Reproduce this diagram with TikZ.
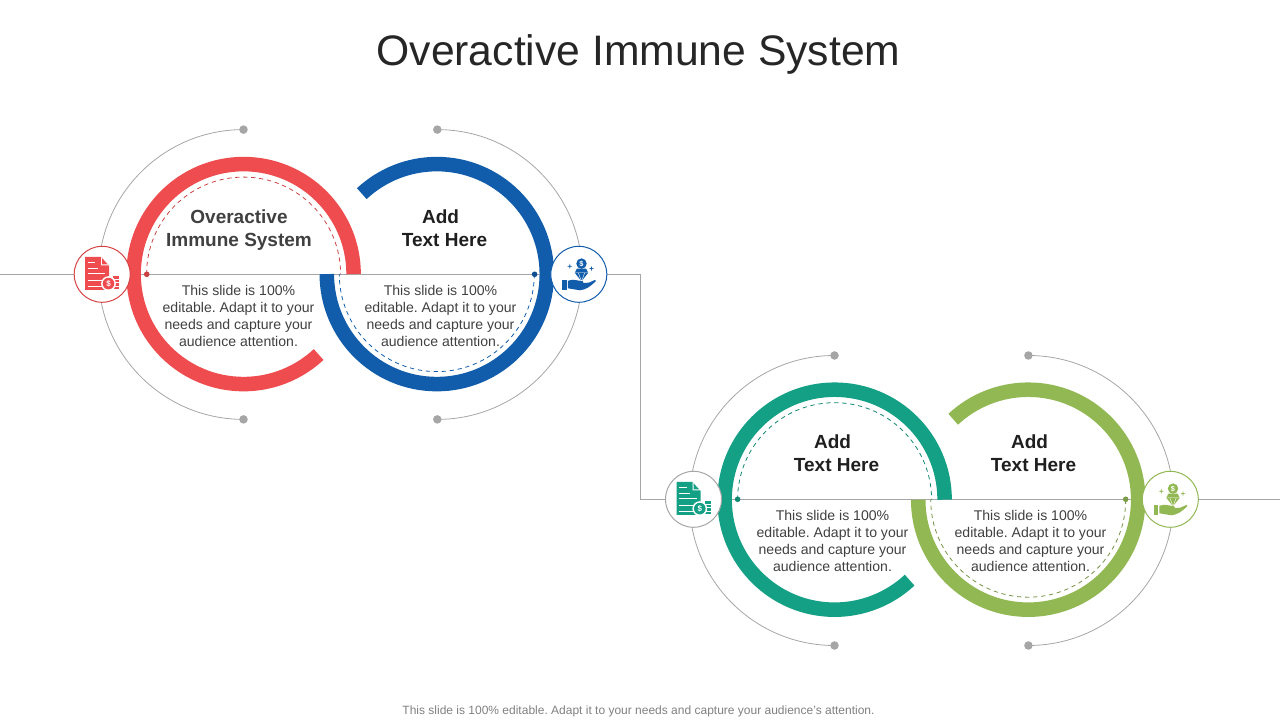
\documentclass[tikz,border=0pt]{standalone}
\usepackage{fontspec}
\setmainfont{Liberation Sans}
\frenchspacing
\definecolor{cred}{HTML}{EE4C4E}
\definecolor{cblue}{HTML}{115DAB}
\definecolor{cteal}{HTML}{14A085}
\definecolor{cgreen}{HTML}{92B853}
\definecolor{greyline}{HTML}{A6A6A6}
\definecolor{greydot}{HTML}{A6A6A6}
\definecolor{bodytext}{HTML}{404040}
\definecolor{headtext}{HTML}{1F1F1F}
\newcommand{\bodycopy}{This slide is 100\%\\editable. Adapt it to your\\needs and capture your\\audience attention.}
\newcommand{\docglyph}[1]{%
  \fill[#1] (-17,17.3) -- (-1,17.3) -- (7,8.5) -- (7,-15.7) -- (-17,-15.7) -- cycle;
  \fill[white] (-1,17.3) -- (-1,9) -- (7,9) -- cycle;
  \fill[#1] (0,16) -- (0,10) -- (5.5,10) -- cycle;
  \foreach \ya/\xb in {11.5/-7,5.7/-4,0.7/3,-6.7/3,-12/3}
    \draw[white,line width=.75pt] (-14.7,\ya) -- (\xb,\ya);
  \foreach \ya in {-4.5,-8,-11.5,-15}
    \fill[#1] (11,\ya) rectangle (17,\ya+2.4);
  \fill[white] (6.3,-9.3) circle (7.4);
  \fill[#1] (6.3,-9.3) circle (5.8);
  \node[text=white,inner sep=0pt,font=\bfseries\fontsize{6}{6}\selectfont] (dollar) at (6.3,-9.3) {\$};
}
\newcommand{\handglyph}[1]{%
  \fill[#1] (2.7,10.7) circle (5.2);
  \node[text=white,inner sep=0pt,font=\bfseries\fontsize{5.5}{6}\selectfont] (dollar) at (2.7,10.7) {\$};
  \fill[#1] (-2,5.6) -- (7.4,5.6) -- (9.4,1.5) -- (2.7,-7) -- (-4,1.5) -- cycle;
  \draw[white,line width=.3pt] (-4,1.5) -- (9.4,1.5) (-.5,1.5) -- (2.7,-7) -- (5.9,1.5);
  \fill[#1] (-16.7,-5.6) rectangle (-12.3,-15.3);
  \fill[#1] (-11,-6.5) .. controls (-6,-5) and (-3,-5.5) .. (0,-6.3) -- (4,-7) -- (4.5,-8.6) -- (10,-8.4) -- (16.5,-5.5) -- (17,-6.8) .. controls (12,-12) and (7,-15.5) .. (1,-16) -- (-11,-14) -- cycle;
  \foreach \sx/\sy in {-9/8,12.7/5.7}
    \fill[#1] (\sx-2.6,\sy) -- (\sx-.5,\sy+.5) -- (\sx,\sy+2.6) -- (\sx+.5,\sy+.5) -- (\sx+2.6,\sy) -- (\sx+.5,\sy-.5) -- (\sx,\sy-2.6) -- (\sx-.5,\sy-.5) -- cycle;
}
\tikzset{
  x=.75pt,y=.75pt,
  connector/.style={draw=greyline,line width=.75pt},
  guide/.style={draw=greyline,line width=.6pt},
  ring/.style={line width=10.9pt,line cap=butt},
  dashline/.style={line width=.6pt,dash pattern=on 3.2pt off 2.8pt},
  greyknob/.style={circle,fill=greydot,inner sep=0pt,minimum size=6.4pt},
  endknob/.style={circle,inner sep=0pt,minimum size=4.2pt},
  iconring/.style={circle,draw,fill=white,line width=.75pt,inner sep=0pt,minimum size=42pt},
  heading/.style={align=center,inner sep=0pt,text=headtext,font=\bfseries\fontsize{14.25}{17.25}\selectfont},
  bodybox/.style={align=center,inner sep=0pt,text=bodytext,font=\fontsize{10.55}{12.75}\selectfont},
}
\begin{document}
\begin{tikzpicture}
\useasboundingbox (0,0) rectangle (1280,720);
% reference points
\coordinate (cr) at (243.6,445.9);
\coordinate (cb) at (436.8,445.9);
\coordinate (ct) at (834.6,220.3);
\coordinate (cg) at (1028.2,220.3);
\coordinate (lineA) at (0,445.7);
\coordinate (lineB) at (640.3,445.7);
\coordinate (lineC) at (640.3,220.7);
\coordinate (lineD) at (1280,220.7);
% connector
\draw[connector] (lineA) -- (lineB) -- (lineC) -- (lineD);
% grey knobs and guide arcs
\node[greyknob] (k1) at (243.5,590.4) {};
\node[greyknob] (k2) at (243.5,300.6) {};
\node[greyknob] (k3) at (437.3,590.4) {};
\node[greyknob] (k4) at (437.3,300.6) {};
\node[greyknob] (k5) at (834.5,364.5) {};
\node[greyknob] (k6) at (834.5,74.5) {};
\node[greyknob] (k7) at (1028.4,364.5) {};
\node[greyknob] (k8) at (1028.4,74.5) {};
\draw[guide] (k1.center) arc (90:270:144.9);
\draw[guide] (k3.center) arc (90:-90:144.9);
\draw[guide] (k5.center) arc (90:270:145);
\draw[guide] (k7.center) arc (90:-90:145);
% dashed arcs
\draw[dashline,cred!85!black] ([shift={(180:97)}]cr) arc (180:0:97);
\draw[dashline,cblue] ([shift={(0:97.5)}]cb) arc (360:180:97.5);
\draw[dashline,cteal!85!black] ([shift={(180:97)}]ct) arc (180:0:97);
\draw[dashline,cgreen!80!black] ([shift={(0:97.5)}]cg) arc (360:180:97.5);
% rings
\draw[ring,cred] ([shift={(0:110)}]cr) arc (0:313:110);
\draw[ring,cblue] ([shift={(180:110)}]cb) arc (180:493:110);
\draw[ring,cteal] ([shift={(0:110)}]ct) arc (0:313:110);
\draw[ring,cgreen] ([shift={(180:110)}]cg) arc (180:493:110);
% dots on the line
\node[endknob,fill=cred!85!black] (d1) at (146.7,445.7) {};
\node[endknob,fill=cblue!85!black] (d2) at (534.6,445.7) {};
\node[endknob,fill=cteal!85!black] (d3) at (737.6,220.7) {};
\node[endknob,fill=cgreen!85!black] (d4) at (1125.7,220.7) {};
% icons
\node[iconring,draw=cred!90!black] (i1) at (102.2,445.7) {};
\node[iconring,draw=cblue] (i2) at (578.8,445.7) {};
\node[iconring,draw=greyline] (i3) at (693.5,220.7) {};
\node[iconring,draw=cgreen] (i4) at (1170.3,220.7) {};
\begin{scope}[shift={(i1.center)}]\docglyph{cred}\end{scope}
\begin{scope}[shift={(i2.center)}]\handglyph{cblue}\end{scope}
\begin{scope}[shift={(i3.center)}]\docglyph{cteal}\end{scope}
\begin{scope}[shift={(i4.center)}]\handglyph{cgreen}\end{scope}
% texts
\node[inner sep=0pt,text=black!85,font=\fontsize{32}{38}\selectfont] (title) at (638.5,665.5) {Overactive Immune System};
\node[heading,text=bodytext] (h1) at (239,489.7) {Overactive\\Immune System};
\node[heading] (h2) at (444.5,491.7) {Add\hspace*{6pt}\\Text Here};
\node[heading] (h3) at (836.5,266.7) {Add\hspace*{6pt}\\Text Here};
\node[heading] (h4) at (1033.5,266.7) {Add\hspace*{6pt}\\Text Here};
\node[bodybox] (b1) at (238.5,403.7) {\bodycopy};
\node[bodybox] (b2) at (440.5,403.7) {\bodycopy};
\node[bodybox] (b3) at (832.5,178.7) {\bodycopy};
\node[bodybox] (b4) at (1030.5,178.7) {\bodycopy};
\node[inner sep=0pt,text=black!50,font=\fontsize{9}{11}\selectfont] (foot) at (638.5,8.4) {This slide is 100\% editable. Adapt it to your needs and capture your audience's attention.};
\end{tikzpicture}
\end{document}
